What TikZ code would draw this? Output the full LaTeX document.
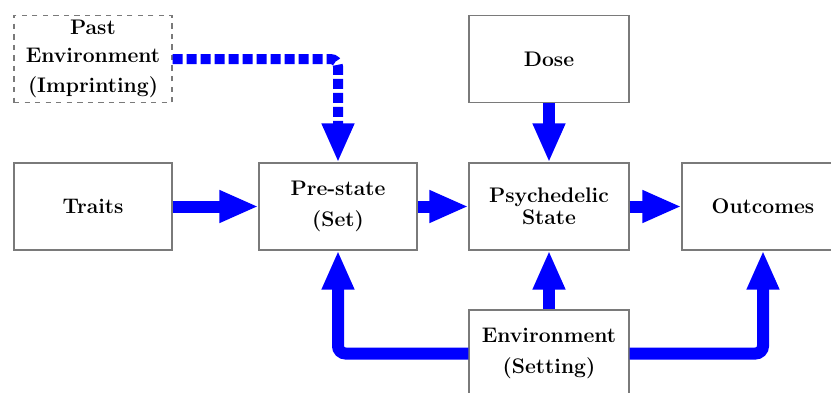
\documentclass[tikz,border=0pt]{standalone}
\usepackage{tikz}
\usetikzlibrary{arrows.meta}
\definecolor{flow}{HTML}{0000FF}
\definecolor{edge}{HTML}{7A7A7A}
\tikzset{
  box/.style={draw=edge, line width=0.6pt, fill=white, align=center,
    minimum width=3.16cm, minimum height=1.74cm, inner sep=2pt,
    font=\bfseries\fontsize{12}{12.5}\selectfont},
  dbox/.style={box, dashed},
  flw/.style={draw=flow, line width=0.24cm, rounded corners=0.15cm,
    -{Triangle[length=0.78cm,width=0.6cm]}},
  dflw/.style={flw, line width=0.2cm, dash pattern=on 0.2cm off 0.08cm},
}
\begin{document}
\begin{tikzpicture}
  \useasboundingbox (0,0) rectangle (16.62,7.84);
  \clip (0,0) rectangle (16.62,7.84);
  \node[dbox] (past) at (1.86,6.66) {Past\\[3.5pt]Environment\\[4.5pt](Imprinting)};
  \node[box] (traits) at (1.86,3.71) {Traits};
  \node[box] (pre) at (6.76,3.71) {Pre-state\\[5pt](Set)};
  \node[box, minimum width=3.2cm] (psy) at (10.98,3.71) {Psychedelic\\State};
  \node[box, minimum width=3.2cm] (dose) at (10.98,6.66) {Dose};
  \node[box, minimum width=3.24cm] (out) at (15.26,3.71) {Outcomes};
  \node[box, minimum width=3.2cm] (env) at (10.98,0.77) {Environment\\[5pt](Setting)};
  \draw[flw] (traits) -- (pre);
  \draw[flw] (pre) -- (psy);
  \draw[flw] (psy) -- (out);
  \draw[flw] (dose) -- (psy);
  \draw[flw] (env) -- (psy);
  \draw[flw] (env.west) -| (pre.south);
  \draw[flw] (env.east) -| (out.south);
  \draw[dflw] (past.east) -| (pre.north);
\end{tikzpicture}
\end{document}
